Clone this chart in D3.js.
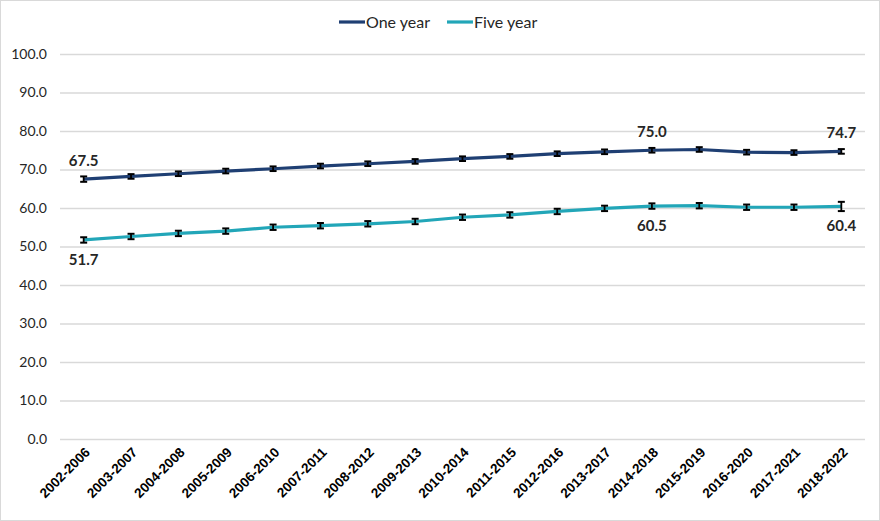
<!DOCTYPE html>
<html>
<head>
<meta charset="utf-8">
<script src="https://cdn.jsdelivr.net/npm/d3@7"></script>
<style>
  html, body { margin: 0; padding: 0; background: #fff; }
  svg { display: block; font-family: Lato, "Open Sans", sans-serif; }
</style>
</head>
<body>
<svg id="chart" width="880" height="521"></svg>
<script>
const periods = ["2002-2006", "2003-2007", "2004-2008", "2005-2009", "2006-2010", "2007-2011",
  "2008-2012", "2009-2013", "2010-2014", "2011-2015", "2012-2016", "2013-2017", "2014-2018",
  "2015-2019", "2016-2020", "2017-2021", "2018-2022"];
const oneYear = [67.5, 68.2, 68.9, 69.6, 70.2, 70.9, 71.5, 72.1, 72.8, 73.4, 74.1, 74.6, 75.0, 75.2, 74.5, 74.4, 74.7];
const fiveYear = [51.7, 52.6, 53.4, 54.0, 55.0, 55.4, 55.9, 56.5, 57.6, 58.2, 59.1, 59.9, 60.5, 60.6, 60.2, 60.2, 60.4];
const oneYearErr = [0.7, 0.6, 0.6, 0.6, 0.6, 0.6, 0.6, 0.6, 0.6, 0.6, 0.6, 0.6, 0.6, 0.6, 0.6, 0.6, 0.6];
const fiveYearErr = [0.7, 0.7, 0.7, 0.7, 0.7, 0.7, 0.7, 0.7, 0.7, 0.7, 0.7, 0.7, 0.7, 0.7, 0.7, 0.7, 1.2];
const yTicks = [0, 10, 20, 30, 40, 50, 60, 70, 80, 90, 100];
// which points carry a value label
const labelled = [0, 12, 16];

const series = [
  { name: "One year", values: oneYear, err: oneYearErr, color: "#1f3f73", labelPos: "above" },
  { name: "Five year", values: fiveYear, err: fiveYearErr, color: "#22a6b8", labelPos: "below" }
];

const svg = d3.select("#chart");

// outer border
svg.append("rect").attr("x", 0.5).attr("y", 0.5).attr("width", 879).attr("height", 520)
  .attr("fill", "#fff").attr("stroke", "#d9d9d9");

const x = d3.scaleBand().domain(periods).range([60, 865]);
const y = d3.scaleLinear().domain([0, 100]).range([439, 54]);
const cx = (i) => x(periods[i]) + x.bandwidth() / 2;

// gridlines + y labels
const yAxis = d3.axisLeft(y).tickValues(yTicks).tickSize(-(865 - 60)).tickFormat(d3.format(".1f"));
const gy = svg.append("g").attr("transform", "translate(60,0)").call(yAxis);
gy.select(".domain").remove();
gy.selectAll(".tick line").attr("stroke", "#d9d9d9").attr("stroke-width", 1.3);
gy.selectAll(".tick text").attr("x", -13).attr("font-size", 14).attr("fill", "#262626")
  .attr("font-family", "Lato, sans-serif");

// x labels
const xAxis = d3.axisBottom(x).tickSize(0);
const gx = svg.append("g").attr("transform", "translate(0,439)").call(xAxis);
gx.select(".domain").remove();
gx.selectAll(".tick text")
  .attr("text-anchor", "end")
  .attr("font-size", 13.5)
  .attr("font-weight", "bold")
  .attr("fill", "#000")
  .attr("dy", 0)
  .attr("transform", "translate(5,12) rotate(-45)");

const line = d3.line().x((d, i) => cx(i)).y((d) => y(d));

series.forEach((s) => {
  svg.append("path").datum(s.values)
    .attr("d", line)
    .attr("fill", "none")
    .attr("stroke", s.color)
    .attr("stroke-width", 3.2)
    .attr("stroke-linejoin", "round");

  const eb = svg.append("g").attr("stroke", "#000");
  s.values.forEach((v, i) => {
    const top = y(v + s.err[i]);
    const bot = y(v - s.err[i]);
    eb.append("line").attr("x1", cx(i)).attr("x2", cx(i)).attr("y1", top).attr("y2", bot).attr("stroke-width", 1.8);
    eb.append("line").attr("x1", cx(i) - 3.5).attr("x2", cx(i) + 3.5).attr("y1", top).attr("y2", top).attr("stroke-width", 2);
    eb.append("line").attr("x1", cx(i) - 3.5).attr("x2", cx(i) + 3.5).attr("y1", bot).attr("y2", bot).attr("stroke-width", 2);
  });

  svg.append("g").selectAll("text").data(labelled).join("text")
    .attr("x", (i) => cx(i))
    .attr("y", (i) => s.labelPos === "above" ? y(s.values[i]) - 13 : y(s.values[i]) + 25)
    .attr("text-anchor", "middle")
    .attr("font-size", 15)
    .attr("font-weight", "bold")
    .attr("fill", "#262626")
    .text((i) => s.values[i].toFixed(1));
});

// legend
const legend = svg.append("g").attr("transform", "translate(339,22)");
let lx = 0;
series.forEach((s) => {
  const g = legend.append("g").attr("transform", `translate(${lx},0)`);
  g.append("line").attr("x1", 0).attr("x2", 26).attr("y1", 0).attr("y2", 0)
    .attr("stroke", s.color).attr("stroke-width", 3.2);
  const t = g.append("text").attr("x", 27).attr("y", 5.5).attr("font-size", 16)
    .attr("fill", "#262626").text(s.name);
  lx += 27 + t.node().getComputedTextLength() + 17;
});
</script>
</body>
</html>
